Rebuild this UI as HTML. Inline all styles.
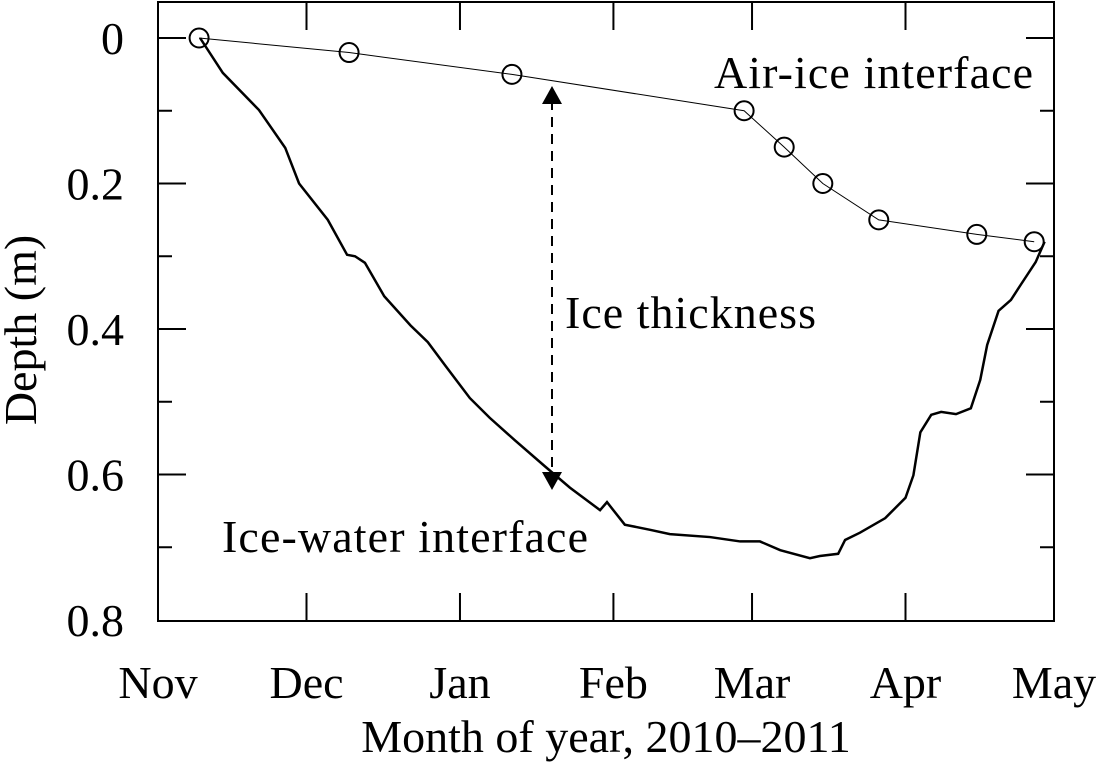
<!DOCTYPE html>
<html><head><meta charset="utf-8"><style>
body{margin:0;background:#fff}
svg text{font-family:"Liberation Serif",serif;fill:#000}
</style></head><body>
<svg width="1098" height="764" id="c">
<rect x="158" y="2" width="896" height="619" fill="none" stroke="#000" stroke-width="2"/>
<g id="ticks"></g><g id="series"></g>
<text x="606" y="752" font-size="46" text-anchor="middle">Month of year, 2010–2011</text>
<text transform="translate(36,330) rotate(-90)" font-size="46" text-anchor="middle">Depth (m)</text>
<text x="714" y="88" font-size="46" textLength="319">Air-ice interface</text>
<text x="565" y="328" font-size="46" textLength="251">Ice thickness</text>
<text x="222" y="552" font-size="46" textLength="366">Ice-water interface</text>
<line x1="552" y1="100" x2="552" y2="475" stroke="#000" stroke-width="2" stroke-dasharray="10,7"/>
<polygon points="552,86 542,104 562,104" fill="#000"/>
<polygon points="552,490 542,472 562,472" fill="#000"/>
</svg>
<script>
const monthLabels=["Nov","Dec","Jan","Feb","Mar","Apr","May"];
const monthDays=[0,30,61,92,120,151,181];
const yTicks=[0,0.2,0.4,0.6,0.8];
const yTickLabels=["0","0.2","0.4","0.6","0.8"];
const airDays=[8.3,38.6,71.5,118.4,126.5,134.3,145.6,165.4,177];
const airDepth=[0,0.02,0.05,0.10,0.15,0.20,0.25,0.27,0.28];
const iceDays=[8.5,13.1,20.4,25.7,28.5,34.3,38.2,39.8,41.8,45.7,51,54.5,58,63,67,72.1,78.2,83.2,89.3,90.7,94.3,99.4,103.4,111.5,117.6,121.6,125.7,131.7,133.7,137.4,138.8,141.8,146.9,151,152.6,154,156.2,158.2,161.2,164.2,166.1,167.5,169.8,172.3,174.3,177.3,179.1];
const iceDepth=[0,0.048,0.099,0.151,0.2,0.25,0.298,0.3,0.309,0.355,0.395,0.418,0.45,0.495,0.522,0.553,0.589,0.618,0.649,0.638,0.669,0.676,0.682,0.686,0.692,0.692,0.704,0.715,0.712,0.709,0.69,0.68,0.66,0.632,0.601,0.542,0.518,0.514,0.517,0.509,0.47,0.422,0.375,0.36,0.339,0.308,0.28];
const NS="http://www.w3.org/2000/svg";
const X=d=>158+d*896/181, Y=v=>38+v*727.5;
const tk=document.getElementById('ticks'), sr=document.getElementById('series');
function mk(p,tag,a){const e=document.createElementNS(NS,tag);for(const k in a)e.setAttribute(k,a[k]);p.appendChild(e);return e;}
monthLabels.forEach((m,i)=>{const x=X(monthDays[i]);
 if(i>0&&i<6){const t=mk(tk,'line',{x1:x,x2:x,y1:621,y2:593,stroke:'#000','stroke-width':2});
 
 
 const t2=mk(tk,'line',{x1:x,x2:x,y1:2,y2:30,stroke:'#000','stroke-width':2});
 
 }
 const l=mk(tk,'text',{x:x,y:698,'font-size':46,'text-anchor':'middle'});l.textContent=m;
 
 });
for(let k=0;k<8;k++){const v=k/10;const y=Y(v);const len=(k%2===0)?28:14;
 const a=mk(tk,'line',{x1:158,x2:158+len,y1:y,y2:y,stroke:'#000','stroke-width':2});
 
 
 const b=mk(tk,'line',{x1:1054,x2:1054-len,y1:y,y2:y,stroke:'#000','stroke-width':2});
 
 }
yTicks.forEach((v,i)=>{const l=mk(tk,'text',{x:124,y:Y(v)+16,'font-size':46,'text-anchor':'end'});l.textContent=yTickLabels[i];
 
 });
const ip=mk(sr,'polyline',{points:iceDays.map((d,i)=>X(d)+','+Y(iceDepth[i])).join(' '),fill:'none',stroke:'#000','stroke-width':2.5});


const ap=mk(sr,'polyline',{points:airDays.map((d,i)=>X(d)+','+Y(airDepth[i])).join(' '),fill:'none',stroke:'#000','stroke-width':1});


airDays.forEach((d,i)=>{const c=mk(sr,'circle',{cx:X(d),cy:Y(airDepth[i]),r:9.5,fill:'none',stroke:'#000','stroke-width':2});
 
 });
</script>
</body></html>
